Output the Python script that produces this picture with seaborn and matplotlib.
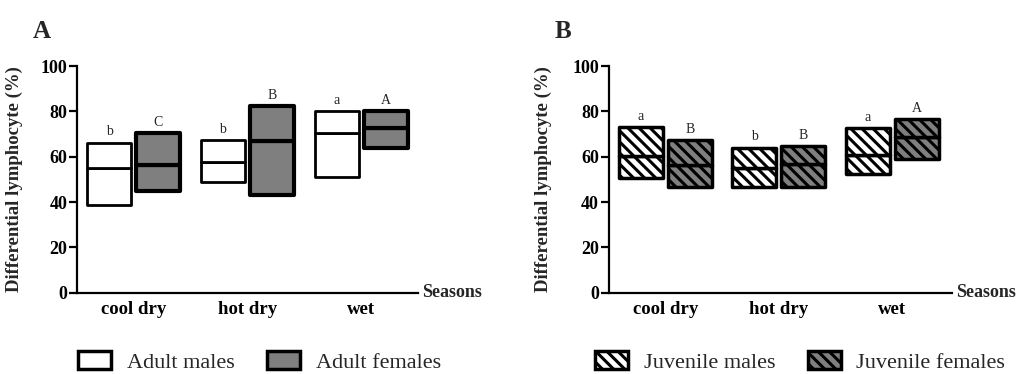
import numpy as np
import matplotlib
matplotlib.use("Agg")
import matplotlib.pyplot as plt
import seaborn as sns
from matplotlib.patches import Patch

# ---------------- data ----------------
seasons = ["cool dry", "hot dry", "wet"]
yticks = [0, 20, 40, 60, 80, 100]

adult_male_min = [38.8, 48.8, 50.9]
adult_male_mean = [54.9, 57.7, 70.6]
adult_male_max = [66.2, 67.2, 80.2]
adult_male_letters = ["b", "b", "a"]

adult_female_min = [45.0, 43.2, 63.7]
adult_female_mean = [56.5, 67.0, 72.6]
adult_female_max = [70.4, 82.4, 80.2]
adult_female_letters = ["C", "B", "A"]

juv_male_min = [50.7, 46.5, 52.4]
juv_male_mean = [60.3, 54.9, 60.6]
juv_male_max = [73.2, 64.0, 72.8]
juv_male_letters = ["a", "b", "a"]

juv_female_min = [46.5, 46.5, 58.8]
juv_female_mean = [56.5, 56.8, 68.5]
juv_female_max = [67.4, 64.7, 76.5]
juv_female_letters = ["B", "B", "A"]

# ---------------- style ----------------
sns.set_theme(style="ticks")
plt.rcParams["font.family"] = ["Liberation Serif", "DejaVu Serif"]
plt.rcParams["hatch.linewidth"] = 2.2
plt.rcParams["axes.edgecolor"] = "black"
plt.rcParams["xtick.color"] = "black"
plt.rcParams["ytick.color"] = "black"

GRAY = "#7f7f7f"
HATCH = "\\\\\\"
BAR_W = 0.388
OFF = 0.216


def float_bars(ax, offset, vmin, vmean, vmax, letters, face, hatch, lw):
    pos = np.arange(len(seasons)) + offset
    vmin = np.asarray(vmin)
    vmean = np.asarray(vmean)
    vmax = np.asarray(vmax)
    for heights, bottoms in ((vmean - vmin, vmin), (vmax - vmean, vmean)):
        sns.barplot(x=pos, y=heights, bottom=bottoms, native_scale=True,
                    orient="x", width=BAR_W, color=face, saturation=1,
                    edgecolor="black", linewidth=lw, hatch=hatch,
                    joinstyle="round", errorbar=None, ax=ax)
    for p, top, lab in zip(pos, vmax, letters):
        ax.annotate(lab, xy=(p, top), xytext=(0, 3), textcoords="offset points",
                    ha="center", va="bottom", fontsize=10)


def style_axis(ax, xlim):
    ax.set_xlim(*xlim)
    ax.set_ylim(0, 100)
    ax.set_xticks(np.arange(len(seasons)), seasons)
    ax.set_yticks(yticks)
    sns.despine(ax=ax)
    for s in ("left", "bottom"):
        ax.spines[s].set_linewidth(1.6)
        ax.spines[s].set_color("black")
    ax.tick_params(axis="x", length=0, pad=6, labelsize=13.5)
    ax.tick_params(axis="y", length=6, width=1.6, pad=1, labelsize=13)
    for t in ax.get_xticklabels() + ax.get_yticklabels():
        t.set_fontweight("bold")
    ax.set_xlabel("")
    ax.set_ylabel("Differential lymphocyte (%)", fontsize=13.5, fontweight="bold")
    ax.annotate("Seasons", xy=(1, 0), xycoords="axes fraction", xytext=(3, 0),
                textcoords="offset points", ha="left", va="center",
                fontsize=13, fontweight="bold")


fig = plt.figure(figsize=(10.19, 3.74), dpi=100)
axA = fig.add_axes([77 / 1019, 0.2174, 341 / 1019, 0.6061])
axB = fig.add_axes([608.5 / 1019, 0.2174, 343 / 1019, 0.6061])

# Panel A
float_bars(axA, -OFF, adult_male_min, adult_male_mean, adult_male_max,
           adult_male_letters, "white", None, 2.0)
float_bars(axA, OFF, adult_female_min, adult_female_mean, adult_female_max,
           adult_female_letters, GRAY, None, 3.0)
style_axis(axA, (-0.5, 2.5))
axA.yaxis.set_label_coords(-0.158, 0.5)

# Panel B
float_bars(axB, -OFF, juv_male_min, juv_male_mean, juv_male_max,
           juv_male_letters, "white", HATCH, 2.5)
float_bars(axB, OFF, juv_female_min, juv_female_mean, juv_female_max,
           juv_female_letters, GRAY, HATCH, 2.5)
style_axis(axB, (-0.5, 2.52))
axB.yaxis.set_label_coords(-0.165, 0.5)

# Panel labels
fig.text(33 / 1019, 1 - 31 / 374, "A", fontsize=18, fontweight="bold",
         ha="left", va="center")
fig.text(555 / 1019, 1 - 32 / 374, "B", fontsize=18, fontweight="bold",
         ha="left", va="center")

# Legends
leg_kw = dict(loc="center left", bbox_transform=fig.transFigure, ncol=2,
              frameon=False, fontsize=16, handlelength=1.5, handleheight=0.85,
              handletextpad=0.7, columnspacing=1.45, borderpad=0,
              borderaxespad=0)
hA = [Patch(facecolor="white", edgecolor="black", lw=2.5),
      Patch(facecolor=GRAY, edgecolor="black", lw=2.5)]
axA.legend(hA, ["Adult males", "Adult females"],
           bbox_to_anchor=(78 / 1019, 1 - 362 / 374), **leg_kw)
hB = [Patch(facecolor="white", edgecolor="black", lw=2.5, hatch=HATCH),
      Patch(facecolor=GRAY, edgecolor="black", lw=2.5, hatch=HATCH)]
axB.legend(hB, ["Juvenile males", "Juvenile females"],
           bbox_to_anchor=(595 / 1019, 1 - 362 / 374), **leg_kw)

fig.savefig("out.png", dpi=100)
